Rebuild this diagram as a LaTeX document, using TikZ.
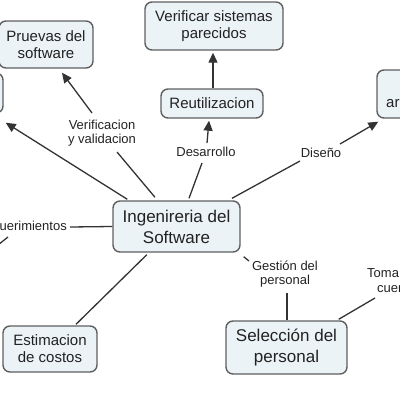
\documentclass[tikz,border=0pt]{standalone}
\usepackage{fontspec}
\setmainfont{Liberation Sans}
\usetikzlibrary{arrows.meta}
\definecolor{boxfill}{HTML}{EBF3F7}
\definecolor{boxline}{HTML}{5F5F5F}
\definecolor{txt}{HTML}{222222}
\definecolor{connc}{HTML}{333333}
\begin{document}
\begin{tikzpicture}[x=1pt,y=-1pt,
 box/.style={draw=boxline,fill=boxfill,line width=1.4pt,rounded corners=7pt,inner sep=0pt,align=center,text=txt,font=\fontsize{15}{17}\selectfont},
 bigbox/.style={box,font=\fontsize{17}{21}\selectfont},
 lbl/.style={inner sep=0pt,align=center,text=txt,font=\fontsize{13}{14.5}\selectfont},
 conn/.style={draw=connc,line width=1.3pt},
 arr/.style={conn,-{Triangle[length=10pt,width=9pt]}}
]
\useasboundingbox (0,0) rectangle (400,400);
\clip (0,0) rectangle (400,400);
% boxes
\node[box,minimum width=94pt,minimum height=47pt] (pr) at (46,44.5) {Pruevas del\\software};
\node[box,minimum width=80pt,minimum height=40pt] (ln) at (-37,93) {};
\node[box,minimum width=138pt,minimum height=48pt] (vs) at (214,26) {Verificar sistemas\\parecidos};
\node[box,minimum width=102pt,minimum height=29pt] (re) at (212,103.5) {Reutilizacion};
\node[box,minimum width=90pt,minimum height=48pt] (rn) at (422,94) {};
\node[inner sep=0pt,anchor=west,text=txt,font=\fontsize{15}{17}\selectfont] (rnt) at (386,104) {arquitectura};
\node[bigbox,minimum width=127pt,minimum height=51pt] (c) at (176.5,226.5) {Ingenireria del\\Software};
\node[box,minimum width=94pt,minimum height=46pt] (es) at (50,349) {Estimacion\\de costos};
\node[bigbox,minimum width=121pt,minimum height=53pt] (se) at (286.5,347.5) {Selección del\\personal};
% labels
\node[lbl] (vv) at (102,133) {Verificacion\\y validacion};
\node[lbl] (de) at (206,152) {Desarrollo};
\node[lbl] (di) at (321,153) {Diseño};
\node[lbl] (ge) at (285,274) {Gestión del\\personal};
\node[lbl,anchor=east] (rq) at (67,227) {Requerimientos};
\node[lbl,anchor=north west,align=left] (to) at (367,268) {Toma de\\\hspace*{10pt}cuenta};
% connectors
\draw[arr] ([shift={(15,-1)}]c.north west) -- ([shift={(2,9)}]ln.south east);
\draw[arr] ([shift={(-10,-20)}]vv.center) -- ([shift={(16,4)}]pr.south);
\draw[conn] ([shift={(-21.5,-3)}]c.north) -- ([shift={(15,19)}]vv.center);
\draw[conn] ([shift={(12.5,-2)}]c.north) -- ([shift={(-4,11)}]de.center);
\draw[arr] ([shift={(1,-9)}]de.center) -- ([shift={(-3,2)}]re.south);
\draw[arr] ([xshift=1pt]re.north) -- ([shift={(-1,2)}]vs.south);
\draw[conn] ([shift={(55.5,-2)}]c.north) -- ([shift={(-21,8)}]di.center);
\draw[arr] ([shift={(19,-9)}]di.center) -- ([shift={(2,3)}]rn.south west);
\draw[conn] ([xshift=3pt]rq.east) -- (c.west);
\draw[conn] ([shift={(-59,10)}]rq.east) -- ++(-10,8);
\draw[conn] ([shift={(34.5,2)}]c.south west) -- ([shift={(26,-1)}]es.north);
\draw[conn] ([shift={(3,4)}]c.south east) -- ([shift={(-36,-13)}]ge.center);
\draw[conn] ([shift={(2,19)}]ge.center) -- ([xshift=0.5pt]se.north);
\draw[conn] ([shift={(8,30)}]to.north west) -- ([shift={(-9,-1)}]se.north east);
\end{tikzpicture}
\end{document}
